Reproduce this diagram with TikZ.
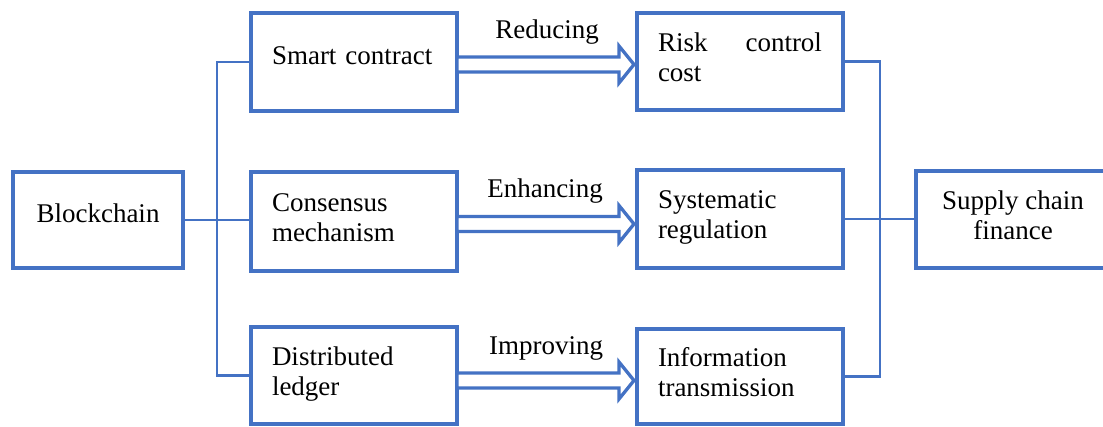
\documentclass[tikz,border=0pt]{standalone}
\usepackage{fontspec}
\setmainfont{Liberation Serif}
\usetikzlibrary{calc}
\definecolor{lineblue}{HTML}{4472C4}
\newcommand{\twoline}[2]{\rule{0pt}{21pt}#1\\#2\rule[-11pt]{0pt}{11pt}}
\newcommand{\oneline}[1]{\rule[-17pt]{0pt}{39pt}#1}
\begin{document}
\begin{tikzpicture}[x=1pt,y=-1pt,
  box/.style={draw=lineblue, line width=3.3pt, inner sep=0pt, outer sep=0pt, font=\fontsize{27}{30}\selectfont},
  leftbox/.style={box, text width=164pt, align=left, minimum width=206pt},
  conn/.style={draw=lineblue, line width=2.2pt},
  blockarrow/.style={draw=lineblue, line width=3.3pt, fill=white},
  verb/.style={font=\fontsize{27}{30}\selectfont, inner sep=0pt, anchor=base}]

\useasboundingbox (0,0) rectangle (1103,427);
\fill[white] (0,0) rectangle (1103,427);

% connectors
\coordinate (jl) at (217,221);
\coordinate (jr) at (880,219);

% boxes
\node[box, minimum width=170pt, minimum height=96pt, align=center] (bc) at (98,220) {\oneline{Blockchain}};
\node[leftbox, minimum height=98pt] (sc) at (354,62) {\oneline{Smart contract}};
\node[leftbox, minimum height=99pt] (cm) at (354,221.5) {\twoline{Consensus}{mechanism}};
\node[leftbox, minimum height=97pt] (dl) at (354,375.5) {\twoline{Distributed}{ledger}};
\node[leftbox, minimum height=97pt] (rc) at (740,61.5) {\twoline{\hbox to 164pt{Risk\hfill control}}{cost}};
\node[leftbox, minimum height=98pt] (sr) at (740,219) {\twoline{Systematic}{regulation}};
\node[leftbox, minimum height=95pt] (ic) at (740,376.5) {\twoline{Information}{transmission}};
\node[box, minimum width=194pt, minimum height=97pt, align=center] (sf) at (1013,219.5) {\twoline{Supply chain}{finance}};

\draw[conn] (sc.west) -| (jl) |- (dl.west);
\draw[conn] (bc.east) -- (bc.east -| cm.west);
\draw[conn] (rc.east) -| (jr) |- (ic.east);
\draw[conn] (sr.east) -- (sr.east -| sf.west);

% block arrows
\draw[blockarrow] let \p1=($(sc.east)+(0,2.5)$), \p2=(rc.west) in
  (\x1,\y1+7.5pt) -- (\x2-18pt,\y1+7.5pt) -- (\x2-18pt,\y1+18.5pt) -- (\x2-3pt,\y1)
  -- (\x2-18pt,\y1-18.5pt) -- (\x2-18pt,\y1-7.5pt) -- (\x1,\y1-7.5pt) -- cycle
  node[verb] at ({(\x1+\x2)/2},\y1+26pt) {Reducing};
\draw[blockarrow] let \p1=($(cm.east)+(0,2.5)$), \p2=(sr.west) in
  (\x1,\y1+7.5pt) -- (\x2-18pt,\y1+7.5pt) -- (\x2-18pt,\y1+18.5pt) -- (\x2-3pt,\y1)
  -- (\x2-18pt,\y1-18.5pt) -- (\x2-18pt,\y1-7.5pt) -- (\x1,\y1-7.5pt) -- cycle
  node[verb] at ({(\x1+\x2)/2-2pt},\y1+26pt) {Enhancing};
\draw[blockarrow] let \p1=($(dl.east)+(0,5)$), \p2=(ic.west) in
  (\x1,\y1+7.5pt) -- (\x2-18pt,\y1+7.5pt) -- (\x2-18pt,\y1+18.5pt) -- (\x2-3pt,\y1)
  -- (\x2-18pt,\y1-18.5pt) -- (\x2-18pt,\y1-7.5pt) -- (\x1,\y1-7.5pt) -- cycle
  node[verb] at ({(\x1+\x2)/2-1pt},\y1+26pt) {Improving};
\end{tikzpicture}
\end{document}
